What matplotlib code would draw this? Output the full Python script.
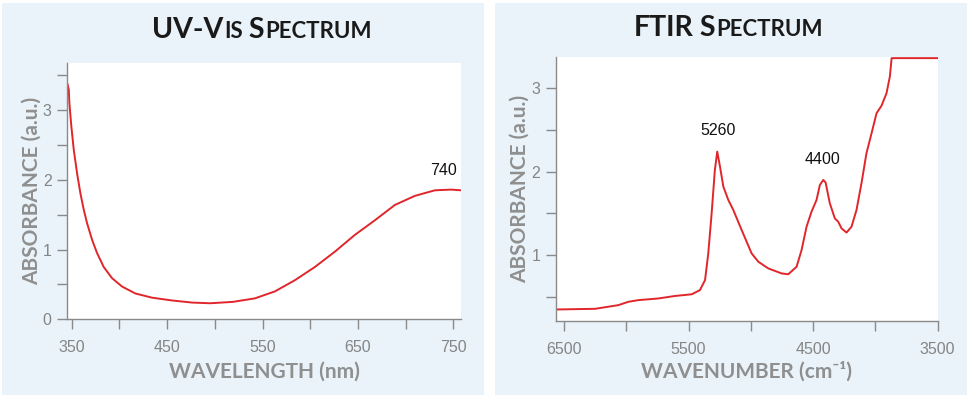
import matplotlib
matplotlib.use("Agg")
import matplotlib.pyplot as plt
from matplotlib.patches import Rectangle
from matplotlib.offsetbox import TextArea, HPacker, AnchoredOffsetbox
import numpy as np

# ---------------- data ----------------
uv_wavelength = [345.6, 346.9, 347.5, 349.6, 352.1, 355.6, 359.0, 362.6, 366.0, 371.3, 376.5,
                 383.5, 392.2, 402.7, 416.7, 434.2, 455.1, 476.1, 495.0, 519.0, 541.9, 562.9,
                 583.8, 604.8, 625.8, 646.7, 667.7, 688.7, 709.6, 730.6, 747.7, 758.0]
uv_absorbance = [3.37, 3.29, 3.10, 2.76, 2.43, 2.09, 1.81, 1.57, 1.38, 1.14, 0.95,
                 0.75, 0.59, 0.47, 0.37, 0.31, 0.27, 0.24, 0.23, 0.25, 0.30, 0.40,
                 0.56, 0.75, 0.97, 1.21, 1.42, 1.64, 1.77, 1.85, 1.86, 1.85]

ir_wavenumber = [6567, 6251, 6064, 5984, 5904, 5743, 5609, 5475, 5409, 5368, 5342, 5315, 5289,
                 5270, 5248, 5221, 5181, 5141, 5074, 4994, 4940, 4860, 4753, 4700, 4633, 4593,
                 4553, 4513, 4473, 4446, 4419, 4400, 4366, 4326, 4299, 4272, 4232, 4192, 4152,
                 4112, 4072, 4031, 3991, 3951, 3911, 3884, 3870, 3860, 3500]
ir_absorbance = [0.348, 0.356, 0.40, 0.44, 0.46, 0.48, 0.51, 0.53, 0.58, 0.70, 1.02, 1.50, 2.02,
                 2.24, 2.06, 1.82, 1.66, 1.54, 1.30, 1.02, 0.92, 0.84, 0.78, 0.77, 0.86, 1.06,
                 1.34, 1.52, 1.66, 1.84, 1.90, 1.87, 1.62, 1.44, 1.40, 1.32, 1.27, 1.34, 1.54,
                 1.86, 2.22, 2.46, 2.70, 2.79, 2.94, 3.14, 3.36, 3.36, 3.36]

uv_peak_label = "740"
uv_peak_pos = (740, 2.02)
ir_peak_labels = ["5260", "4400"]
ir_peak_pos = [(5264, 2.40), (4424, 2.06)]

uv_xticks = [350, 450, 550, 650, 750]
uv_yticks = [0, 1, 2, 3]
ir_xticks = [6500, 5500, 4500, 3500]
ir_yticks = [1, 2, 3]

# ---------------- style ----------------
W, H = 969, 396
fig = plt.figure(figsize=(W / 100, H / 100), dpi=100)
fig.patch.set_facecolor("white")

panel_col = "#e9f3f9"
red = "#e0262b"
gray_axis = "#8a8a8a"
gray_lab = "#8f8f8f"
tick_col = "#858585"
title_font = "Lato"

def fx(px):
    return px / W

def fy(py):
    return 1 - py / H

# background panels
fig.patches.append(Rectangle((fx(2), fy(395)), fx(484) - fx(2), fy(3) - fy(395),
                             transform=fig.transFigure, facecolor=panel_col, edgecolor="none", zorder=-10))
fig.patches.append(Rectangle((fx(495), fy(395)), fx(967) - fx(495), fy(3) - fy(395),
                             transform=fig.transFigure, facecolor=panel_col, edgecolor="none", zorder=-10))


def smallcaps_title(parts, cx, cy):
    boxes = []
    for txt, big in parts:
        boxes.append(TextArea(txt, textprops=dict(fontsize=20.5 if big else 16,
                                                  fontweight="bold", family=title_font,
                                                  color="#1a1a1a")))
    pack = HPacker(children=boxes, align="baseline", pad=0, sep=0)
    ab = AnchoredOffsetbox(loc="center", child=pack, pad=0, frameon=False,
                           bbox_to_anchor=(fx(cx), fy(cy)), bbox_transform=fig.transFigure,
                           borderpad=0)
    fig.add_artist(ab)


def style_axes(ax):
    ax.set_facecolor("white")
    for s in ["top", "right"]:
        ax.spines[s].set_visible(False)
    for s in ["left", "bottom"]:
        ax.spines[s].set_color(gray_axis)
        ax.spines[s].set_linewidth(1.0)
    ax.tick_params(which="both", direction="out", length=7, width=1.0, color=gray_axis,
                   labelcolor=tick_col, labelsize=11.5)
    for lab in ax.get_xticklabels() + ax.get_yticklabels():
        lab.set_family("Liberation Sans")


lab_kw = dict(family=[title_font, "DejaVu Sans"], fontweight="bold", fontsize=15, color=gray_lab)

# ---------------- UV-Vis ----------------
ax1 = fig.add_axes([fx(67), fy(319.3), fx(461) - fx(67), fy(62.7) - fy(319.3)])
ax1.plot(uv_wavelength, uv_absorbance, color=red, lw=1.4, solid_joinstyle="round")
ax1.set_xlim(345, 758)
ax1.set_ylim(0, 3.68)
ax1.set_xticks(uv_xticks)
ax1.set_xticks([400, 500, 600, 700], minor=True)
ax1.set_yticks(uv_yticks)
ax1.set_yticks([0.5, 1.5, 2.5, 3.5], minor=True)
style_axes(ax1)
ax1.tick_params(axis="x", pad=8)
ax1.tick_params(axis="y", pad=4)
ax1.text(*uv_peak_pos, uv_peak_label, ha="center", va="bottom", fontsize=11.5,
         family="Liberation Sans", color="#111111")
ax1.set_xlabel("WAVELENGTH (nm)", labelpad=5, **lab_kw)
ax1.set_ylabel("ABSORBANCE (a.u.)", labelpad=1, **lab_kw)

# ---------------- FTIR ----------------
ax2 = fig.add_axes([fx(555.7), fy(321), fx(937.7) - fx(555.7), fy(57.3) - fy(321)])
ax2.plot(ir_wavenumber, ir_absorbance, color=red, lw=1.4, solid_joinstyle="round")
ax2.set_xlim(6567, 3500)
ax2.set_ylim(0.21, 3.37)
ax2.set_xticks(ir_xticks)
ax2.set_xticks([6000, 5000, 4000], minor=True)
ax2.set_yticks(ir_yticks)
ax2.set_yticks([0.5, 1.5, 2.5], minor=True)
style_axes(ax2)
ax2.tick_params(axis="x", pad=8)
ax2.tick_params(axis="y", pad=4)
for lab, pos in zip(ir_peak_labels, ir_peak_pos):
    ax2.text(*pos, lab, ha="center", va="bottom", fontsize=11.5,
             family="Liberation Sans", color="#111111")
ax2.set_xlabel("WAVENUMBER (cm\u207b\u00b9)", labelpad=3, **lab_kw)
ax2.set_ylabel("ABSORBANCE (a.u.)", labelpad=1, **lab_kw)

# titles (small caps)
smallcaps_title([("UV-V", True), ("IS", False), (" S", True), ("PECTRUM", False)], 262, 30)
smallcaps_title([("FTIR", True), (" S", True), ("PECTRUM", False)], 728, 28)

fig.savefig("out.png", dpi=100, facecolor="white")
